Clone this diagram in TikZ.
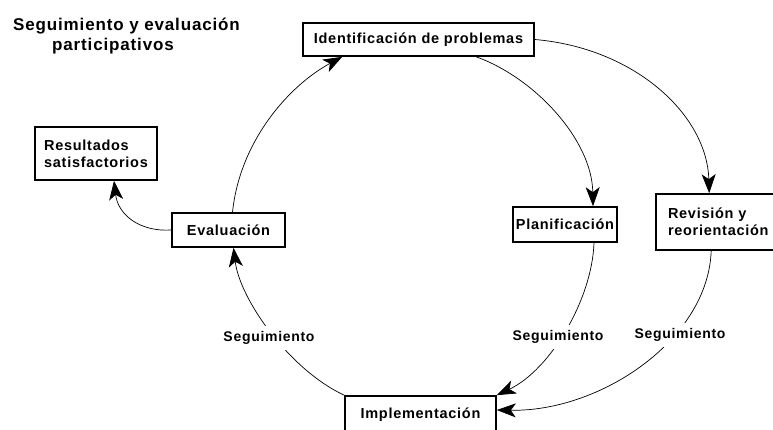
\documentclass[tikz,border=0pt]{standalone}
\usepackage{fontspec}
\setmainfont{Liberation Sans}[LetterSpace=5]
\usetikzlibrary{arrows.meta,calc}
\begin{document}
\begin{tikzpicture}[x=1pt,y=-1pt,
 box/.style={draw,line width=1.6pt,inner sep=0pt,font=\fontsize{14.5}{17}\selectfont\bfseries},
 conn/.style={line width=0.7pt,-{Stealth[length=19pt,width=14pt,inset=5pt]}},
 lbl/.style={fill=white,inner sep=5pt,font=\fontsize{14}{16}\selectfont\bfseries},
 ttl/.style={inner sep=0pt,anchor=base west,font=\fontsize{17}{20}\selectfont\bfseries}]
\useasboundingbox[fill=white] (0,0) rectangle (773,430);
\node[ttl] (t1) at (13,31) {Seguimiento y evaluación};
\node[ttl] (t2) at (52,51) {participativos};
\node[box,minimum width=231pt,minimum height=33pt] (ident) at (418.5,39.5) {Identificación de problemas};
\node[box,minimum width=122pt,minimum height=53pt,align=left] (res) at (96,153.5) {Resultados\\satisfactorios};
\node[box,minimum width=113pt,minimum height=34pt] (eval) at (228.5,230) {Evaluación};
\node[box,minimum width=104pt,minimum height=35pt] (plan) at (565,224.5) {Planificación};
\node[box,text width=108pt,inner xsep=12pt,minimum height=56pt,align=left] (rev) at (722,222) {Revisión y\\reorientación};
\node[box,minimum width=151pt,minimum height=38pt] (impl) at (420.5,415) {Implementación};
\draw[conn] ($(eval.north)+(4,0)$) .. controls (240,140) and (290,85) .. ($(ident.south west)+(40,0)$);
\draw[conn] ($(ident.south west)+(174,0)$) .. controls (535,78) and (592,140) .. ($(plan.north)+(28,0)$);
\draw[conn] (ident.east) .. controls (635,48) and (707,115) .. ($(rev.north west)+(54,0)$);
\draw[conn] ($(plan.south)+(29,0)$) .. controls (592,300) and (550,370) .. (impl.north east);
\draw[conn] ($(rev.south west)+(56,0)$) .. controls (708,340) and (600,412) .. ($(impl.east)+(0,-5)$);
\draw[conn] (impl.north west) .. controls (290,370) and (240,300) .. ($(eval.south)+(5,0)$);
\draw[conn] (eval.west) .. controls (140,232) and (118,215) .. ($(res.south)+(18,0)$);
\node[lbl] (s1) at (269,338) {Seguimiento};
\node[lbl] (s2) at (558,337) {Seguimiento};
\node[lbl] (s3) at (680,335) {Seguimiento};
\end{tikzpicture}
\end{document}
